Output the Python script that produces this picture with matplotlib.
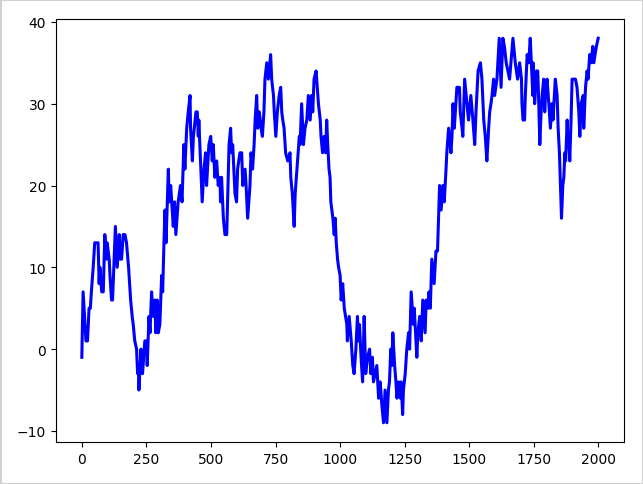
import matplotlib
matplotlib.use("Agg")
import matplotlib.pyplot as plt

steps = [0, 5, 16, 22, 28, 33, 37, 44, 50, 56, 63, 67, 70, 77, 83, 89, 96, 98, 106, 109,
         115, 119, 130, 137, 145, 148, 154, 160, 167, 173, 181, 189, 195, 199, 205, 212,
         216, 219, 221, 229, 235, 244, 251, 253, 260, 264, 270, 277, 283, 286, 292, 296,
         302, 309, 313, 318, 322, 326, 335, 338, 344, 354, 359, 364, 373, 382, 388, 395,
         399, 406, 412, 419, 421, 428, 432, 442, 447, 451, 453, 457, 464, 466, 473, 479,
         483, 492, 499, 505, 509, 515, 522, 528, 535, 537, 541, 548, 554, 561, 570, 576,
         580, 584, 593, 599, 603, 612, 619, 623, 632, 636, 642, 651, 655, 661, 667, 671,
         677, 681, 687, 694, 699, 705, 709, 716, 722, 731, 735, 742, 745, 751, 757, 764,
         770, 774, 778, 783, 789, 797, 806, 809, 815, 822, 826, 835, 842, 845, 851, 858,
         864, 871, 877, 884, 890, 894, 899, 907, 916, 923, 926, 932, 938, 944, 948, 952,
         957, 961, 964, 968, 972, 977, 981, 985, 990, 994, 1000, 1004, 1010, 1016, 1026, 1028, 1035,
         1043, 1049, 1054, 1061, 1067, 1071, 1075, 1081, 1087, 1093, 1099, 1106, 1114,
         1119, 1125, 1129, 1142, 1149, 1155, 1162, 1168, 1174, 1181, 1187, 1191, 1196,
         1200, 1204, 1211, 1216, 1220, 1226, 1233, 1236, 1242, 1245, 1252, 1258, 1265,
         1269, 1275, 1284, 1287, 1297, 1301, 1308, 1314, 1320, 1329, 1333, 1340, 1344,
         1349, 1355, 1364, 1371, 1377, 1385, 1391, 1398, 1403, 1410, 1413, 1420, 1429,
         1433, 1437, 1442, 1446, 1452, 1462, 1465, 1472, 1475, 1482, 1488, 1497, 1506,
         1514, 1521, 1526, 1534, 1543, 1549, 1556, 1562, 1568, 1575, 1579, 1584, 1588,
         1594, 1598, 1607, 1616, 1623, 1630, 1636, 1643, 1656, 1669, 1678, 1687, 1695,
         1702, 1704, 1708, 1714, 1717, 1724, 1730, 1736, 1743, 1746, 1747, 1752, 1753,
         1760, 1765, 1769, 1773, 1778, 1782, 1788, 1792, 1797, 1801, 1808, 1814, 1820,
         1824, 1833, 1840, 1844, 1849, 1853, 1857, 1862, 1866, 1870, 1873, 1879, 1882,
         1885, 1889, 1894, 1898, 1911, 1917, 1924, 1928, 1933, 1941, 1943, 1950, 1956,
         1960, 1966, 1972, 1978, 1982, 1992, 1999]

values = [-1, 7, 1, 1, 5, 5, 7, 10, 13, 13, 13, 8, 10, 7, 7, 14, 11, 13, 11, 9,
          6, 6, 15, 10, 14, 11, 11, 14, 14, 13, 10, 6, 4, 3, 1, 0,
          -3, -2, -5, 0, -3, 1, 1, -2, 4, 2, 7, 4, 6, 2, 6, 2,
          3, 9, 7, 13, 17, 13, 22, 18, 20, 15, 18, 14, 18, 20, 18, 25,
          22, 27, 29, 31, 27, 23, 26, 29, 29, 26, 28, 25, 20, 18, 22, 24,
          20, 25, 26, 23, 25, 21, 23, 20, 21, 18, 21, 16, 14, 14, 25, 27,
          24, 25, 19, 18, 22, 24, 24, 20, 22, 20, 16, 20, 24, 22, 25, 28,
          31, 27, 29, 27, 26, 29, 33, 35, 33, 36, 33, 31, 29, 26, 29, 31,
          32, 29, 28, 27, 24, 23, 24, 21, 19, 15, 19, 23, 26, 25, 30, 25,
          27, 28, 31, 28, 31, 29, 33, 34, 30, 28, 26, 24, 26, 24, 28, 25,
          22, 21, 18, 17, 16, 14, 16, 13, 11, 10, 9, 6, 8, 5, 3, 1, 4,
          1, -2, -3, 0, 4, 1, 3, -1, -4, 4, -3, -1, 0,
          -3, -1, -4, -2, -6, -4, -7, -9, -5, -9, -5, -4, 0,
          -2, 2, -2, -4, -6, -4, -6, -4, -8, -5, -3, 0, 2,
          0, 7, 3, 5, -1, 2, 4, 1, 6, 2, 6, 5, 7,
          5, 11, 8, 12, 12, 20, 17, 20, 18, 22, 24, 27, 24,
          26, 30, 27, 29, 32, 32, 29, 27, 26, 33, 31, 28, 31,
          28, 25, 29, 34, 35, 33, 28, 26, 23, 27, 29, 30, 31,
          33, 31, 33, 38, 32, 38, 37, 35, 33, 38, 35, 33, 35,
          33, 30, 28, 28, 31, 36, 35, 38, 33, 31, 35, 32, 30,
          34, 34, 30, 25, 29, 31, 33, 29, 32, 33, 30, 27, 30,
          28, 33, 31, 27, 24, 20, 16, 20, 21, 24, 23, 28, 25,
          26, 23, 28, 33, 33, 32, 29, 26, 30, 31, 27, 32, 34,
          33, 36, 35, 37, 35, 37, 38]

fig = plt.figure(figsize=(6.43, 4.85), dpi=100)
fig.patch.set_edgecolor("#d0d0d0")
fig.patch.set_linewidth(2)
ax = fig.add_axes([56 / 643, 1 - 443 / 485, (624 - 56) / 643, (443 - 20) / 485])
ax.plot(steps, values, color="blue", linewidth=2.2)
ax.set_xticks([0, 250, 500, 750, 1000, 1250, 1500, 1750, 2000])
ax.set_yticks([-10, 0, 10, 20, 30, 40])
fig.savefig("out.png", dpi=100, edgecolor=fig.get_edgecolor())
